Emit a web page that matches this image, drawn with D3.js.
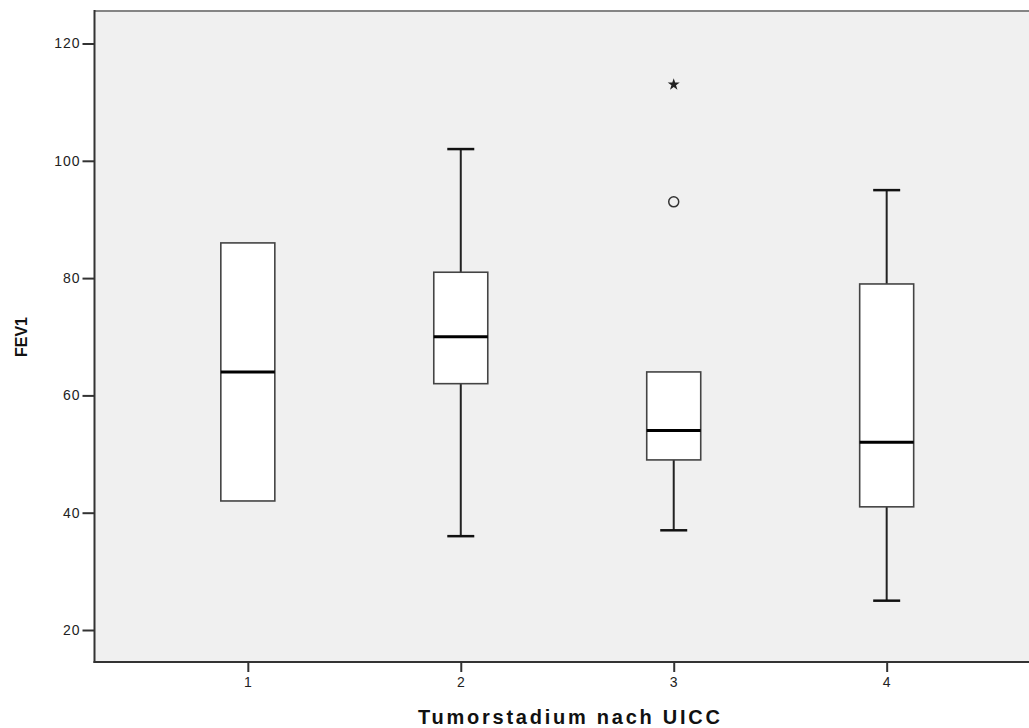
<!DOCTYPE html>
<html><head><meta charset="utf-8">
<script src="https://cdn.jsdelivr.net/npm/d3@7"></script>
<style>body{margin:0;background:#fff;} svg{display:block;}</style>
</head><body>
<svg id="c" width="1029" height="728"></svg>
<script>
const categories = ["1","2","3","4"];
const whiskerLow  = [42, 36, 37, 25];
const q1          = [42, 62, 49, 41];
const median      = [64, 70, 54, 52];
const q3          = [86, 81, 64, 79];
const whiskerHigh = [86, 102, 64, 95];
const outliers = [{cat:"3", value:93}];
const extremes = [{cat:"3", value:113}];
const yTicks = [20, 40, 60, 80, 100, 120];
const xTitle = "Tumorstadium nach UICC";
const yTitle = "FEV1";

const svg = d3.select("#c");
const L = 94.5, T = 11, B = 662, R = 1040;
const y = d3.scaleLinear().domain([20,120]).range([630,43.5]);
const x = d3.scalePoint().domain(categories).range([L,R]).padding(0.72);
const boxW = 54, capW = 27;

svg.append("rect").attr("x",L).attr("y",T).attr("width",R-L).attr("height",B-T).attr("fill","#f0f0f0");
svg.append("line").attr("x1",L).attr("x2",R).attr("y1",T).attr("y2",T).attr("stroke","#858585").attr("stroke-width",2);

const data = categories.map((c,i)=>({c, lo:whiskerLow[i], q1:q1[i], med:median[i], q3:q3[i], hi:whiskerHigh[i]}));
const g = svg.append("g");
data.forEach(d=>{
  const cx = x(d.c);
  if (d.hi > d.q3) {
    g.append("line").attr("x1",cx).attr("x2",cx).attr("y1",y(d.hi)).attr("y2",y(d.q3)).attr("stroke","#222").attr("stroke-width",2);
    g.append("line").attr("x1",cx-capW/2).attr("x2",cx+capW/2).attr("y1",y(d.hi)).attr("y2",y(d.hi)).attr("stroke","#111").attr("stroke-width",2.5);
  }
  if (d.lo < d.q1) {
    g.append("line").attr("x1",cx).attr("x2",cx).attr("y1",y(d.q1)).attr("y2",y(d.lo)).attr("stroke","#222").attr("stroke-width",2);
    g.append("line").attr("x1",cx-capW/2).attr("x2",cx+capW/2).attr("y1",y(d.lo)).attr("y2",y(d.lo)).attr("stroke","#111").attr("stroke-width",2.5);
  }
  g.append("rect").attr("x",cx-boxW/2).attr("y",y(d.q3)).attr("width",boxW).attr("height",y(d.q1)-y(d.q3))
    .attr("fill","#fff").attr("stroke","#444").attr("stroke-width",1.6);
  g.append("line").attr("x1",cx-boxW/2).attr("x2",cx+boxW/2).attr("y1",y(d.med)).attr("y2",y(d.med)).attr("stroke","#000").attr("stroke-width",3);
});
outliers.forEach(o=>{
  g.append("circle").attr("cx",x(o.cat)).attr("cy",y(o.value)).attr("r",5).attr("fill","none").attr("stroke","#333").attr("stroke-width",1.5);
});
extremes.forEach(o=>{
  g.append("path").attr("d",d3.symbol(d3.symbolStar,45)()).attr("transform",`translate(${x(o.cat)},${y(o.value)})`).attr("fill","#222");
});

// axes
const yAxis = svg.append("g").attr("transform",`translate(${L},0)`)
  .call(d3.axisLeft(y).tickValues(yTicks).tickSize(12).tickPadding(2));
yAxis.select(".domain").remove();
svg.append("line").attr("x1",L).attr("x2",L).attr("y1",T-1).attr("y2",B+1).attr("stroke","#333").attr("stroke-width",2);
const xAxis = svg.append("g").attr("transform",`translate(0,${B})`)
  .call(d3.axisBottom(x).tickSize(10).tickPadding(5));
xAxis.select(".domain").remove();
svg.append("line").attr("x1",L-1).attr("x2",1029).attr("y1",B).attr("y2",B).attr("stroke","#333").attr("stroke-width",2);
[yAxis,xAxis].forEach(a=>{
  a.selectAll(".tick line").attr("stroke","#333").attr("stroke-width",2);
  a.selectAll(".tick text").attr("fill","#222").attr("font-family","Liberation Sans, Arial, sans-serif").attr("font-size",14).attr("letter-spacing",1);
});

svg.append("text").attr("x",569).attr("y",724).attr("text-anchor","middle")
  .attr("font-family","Liberation Sans, Arial, sans-serif").attr("font-weight","bold").attr("font-size",20)
  .attr("textLength",302).attr("fill","#111").text(xTitle);
svg.append("text").attr("transform","translate(27,337) rotate(-90)").attr("text-anchor","middle")
  .attr("font-family","Liberation Sans, Arial, sans-serif").attr("font-weight","bold").attr("font-size",16)
  .attr("fill","#111").text(yTitle);
</script>
</body></html>
